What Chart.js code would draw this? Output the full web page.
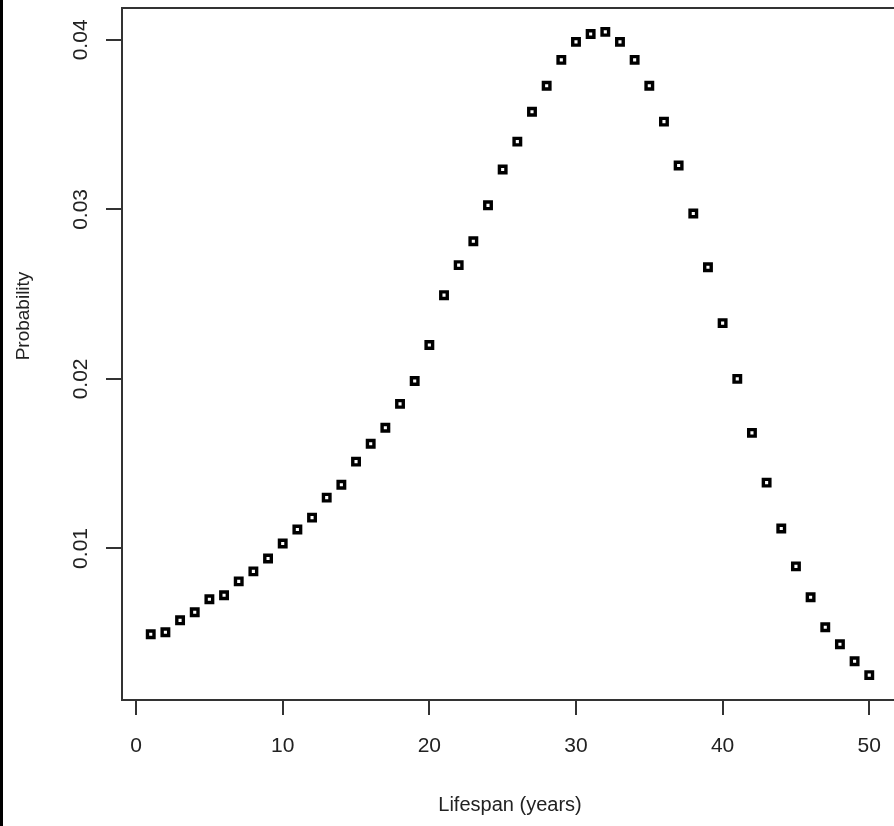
<!DOCTYPE html>
<html>
<head>
<meta charset="utf-8">
<script src="https://cdn.jsdelivr.net/npm/chart.js@4/dist/chart.umd.min.js"></script>
<style>
html,body{margin:0;padding:0;background:#fff;overflow:hidden;width:894px;height:826px;}
#wrap{position:relative;width:894px;height:826px;overflow:hidden;}
#c{position:absolute;left:0;top:0;}
#edge{position:absolute;left:0;top:0;width:3px;height:826px;background:#000;}
</style>
</head>
<body>
<div id="wrap">
<canvas id="c" width="906" height="826"></canvas>
<div id="edge"></div>
</div>
<script>
const years = [1,2,3,4,5,6,7,8,9,10,11,12,13,14,15,16,17,18,19,20,21,22,23,24,25,26,27,28,29,30,31,32,33,34,35,36,37,38,39,40,41,42,43,44,45,46,47,48,49,50];
const probability = [0.00494,0.00506,0.00576,0.00624,0.0070,0.00724,0.00806,0.00865,0.00941,0.01029,
0.01112,0.01182,0.0130,0.01376,0.01512,0.01618,0.01712,0.01853,0.01988,0.0220,
0.02494,0.02671,0.02812,0.03024,0.03235,0.0340,0.03576,0.03729,0.03882,0.03988,
0.04035,0.04047,0.03988,0.03882,0.03729,0.03518,0.03259,0.02976,0.02659,0.02329,
0.0200,0.01682,0.01388,0.01118,0.00894,0.00712,0.00535,0.00435,0.00335,0.00253];
const xTicks = [0,10,20,30,40,50];
const yTicks = [0.01,0.02,0.03,0.04];
const yTickLabels = ['0.01','0.02','0.03','0.04'];
const xTitle = 'Lifespan (years)';
const yTitle = 'Probability';

const FONT = 'Liberation Sans, Arial, sans-serif';
const TXT = '#222';
const LINE = '#333';

const points = years.map((y,i)=>({x:y, y:probability[i]}));

const rPlot = {
  id:'rPlot',
  afterDraw(chart){
    const ctx = chart.ctx, a = chart.chartArea, ys = chart.scales.y;
    ctx.save();
    ctx.strokeStyle = LINE; ctx.lineWidth = 2;
    ctx.beginPath(); ctx.moveTo(a.left, a.top); ctx.lineTo(a.right, a.top); ctx.stroke();
    ctx.fillStyle = TXT;
    ctx.textAlign = 'center'; ctx.textBaseline = 'middle';
    ctx.font = '21px ' + FONT;
    yTicks.forEach((v,i)=>{
      const py = ys.getPixelForValue(v);
      ctx.save();
      ctx.translate(81, py);
      ctx.rotate(-Math.PI/2);
      ctx.fillText(yTickLabels[i], 0, 0);
      ctx.restore();
    });
    ctx.font = '19px ' + FONT;
    ctx.save();
    ctx.translate(24, (a.top + a.bottom)/2 - 38);
    ctx.rotate(-Math.PI/2);
    ctx.fillText(yTitle, 0, 0);
    ctx.restore();
    ctx.restore();
  }
};

new Chart(document.getElementById('c'), {
  type:'scatter',
  data:{datasets:[{
    data:points,
    pointStyle:'rect',
    pointRadius:4.6,
    pointHoverRadius:4.6,
    pointBorderWidth:3.4,
    pointBorderColor:'#000',
    pointBackgroundColor:'#fff',
    showLine:false
  }]},
  options:{
    responsive:false,
    animation:false,
    devicePixelRatio:1,
    layout:{padding:{top:6,left:0,right:2,bottom:0}},
    plugins:{legend:{display:false},tooltip:{enabled:false}},
    scales:{
      x:{
        type:'linear', min:-0.96, max:51.96,
        afterBuildTicks(s){ s.ticks = xTicks.map(v=>({value:v})); },
        afterFit(s){ s.height = 126; },
        grid:{display:true, drawOnChartArea:false, drawTicks:true, tickLength:15, color:LINE, lineWidth:2},
        border:{display:true, color:LINE, width:2},
        ticks:{color:TXT, font:{family:FONT,size:21}, padding:19, maxRotation:0, minRotation:0},
        title:{display:true, text:xTitle, color:TXT, font:{family:FONT,size:20}, padding:{top:0,bottom:9}}
      },
      y:{
        type:'linear', min:0.00106, max:0.04188,
        afterBuildTicks(s){ s.ticks = yTicks.map(v=>({value:v})); },
        afterFit(s){ s.width = 122; },
        grid:{display:true, drawOnChartArea:false, drawTicks:true, tickLength:16, color:LINE, lineWidth:2},
        border:{display:true, color:LINE, width:2},
        ticks:{display:false},
        title:{display:false}
      }
    }
  },
  plugins:[rPlot]
});
</script>
</body>
</html>
